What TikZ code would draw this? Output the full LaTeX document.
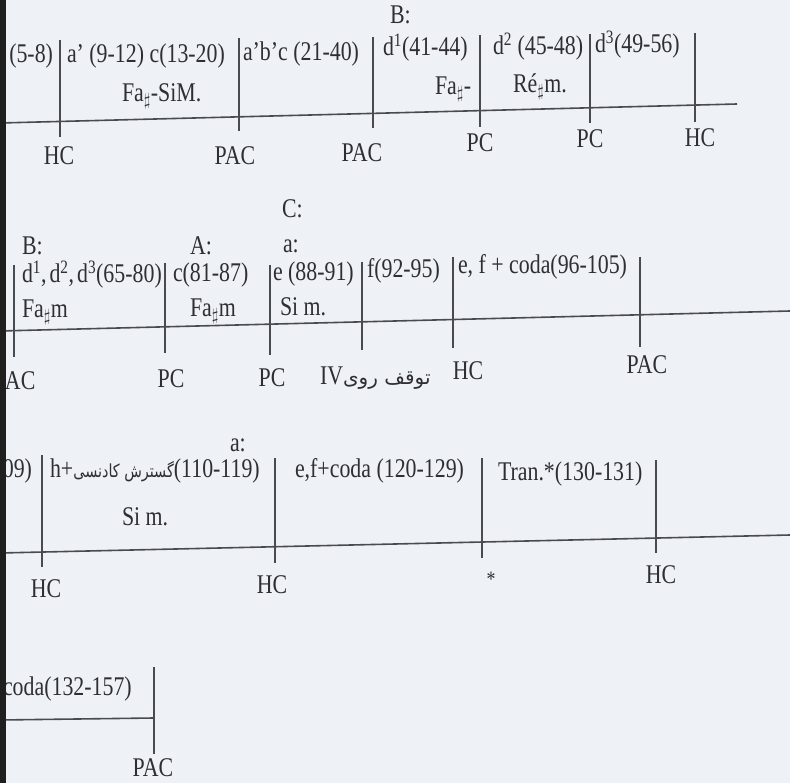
\documentclass[tikz,border=0pt]{standalone}
\usepackage{fontspec}
\setmainfont{Liberation Serif}[FakeStretch=0.81]
\newfontfamily\arabicfont[Script=Arabic]{DejaVu Sans}
\newfontfamily\arabicnarrow[Script=Arabic,FakeStretch=0.8]{DejaVu Sans}
\TeXXeTstate=1
\definecolor{paper}{HTML}{EEF2F7}
\definecolor{ink}{HTML}{2E2E33}
\definecolor{rulec}{HTML}{4A4A52}
\newcommand\mkbar[4]{\coordinate (#1t) at (#2,#3); \coordinate (#1b) at (#2,#4); \draw[barline] (#1t) -- (#1b);}
\newcommand\shp{$_\sharp$}
\newcommand\fa[1]{{\arabicfont\fontsize{20}{24}\selectfont\beginR #1\endR}}
\newcommand\fan[1]{{\arabicnarrow\fontsize{18}{22}\selectfont\beginR #1\endR}}
\tikzset{
 lbl/.style={anchor=base west, inner sep=0pt, outer sep=0pt, text=ink, font=\fontsize{27}{32}\selectfont},
 lble/.style={lbl, anchor=base east},
 cad/.style={lbl, anchor=base},
 barline/.style={draw=rulec, line width=1.3pt},
 staff/.style={draw=rulec, line width=1.6pt},
}
\begin{document}
\begin{tikzpicture}[x=1pt,y=-1pt]
\fill[paper] (0,0) rectangle (790,783);
\useasboundingbox (0,0) rectangle (790,783);
% ---------- row 1
\coordinate (r1a) at (0,123); \coordinate (r1b) at (737,104);
\draw[staff] (r1a) -- (r1b);
\mkbar{p1}{60}{40}{137}
\mkbar{p2}{239}{38}{131}
\mkbar{p3}{373}{37}{128}
\mkbar{p4}{480}{35}{127}
\mkbar{p5}{590}{34}{123}
\mkbar{p6}{695}{33}{122}
\node[lble] (a1) at (53,63) {(5-8)};
\node[lbl] (a2) at (67,63) {a' (9-12) c(13-20)};
\node[lbl] (a3) at (122,102) {Fa\shp-SiM.};
\node[lbl] (a4) at (243,61) {a'b'c (21-40)};
\node[lbl] (a5) at (390,24) {B:};
\node[lbl] (a6) at (383,56) {d\textsuperscript{1}(41-44)};
\node[lbl] (a7) at (435,95) {Fa\shp-};
\node[lbl] (a8) at (493,55) {d\textsuperscript{2} (45-48)};
\node[lbl] (a9) at (513,93) {Ré\shp m.};
\node[lbl] (a10) at (595,53) {d\textsuperscript{3}(49-56)};
\node[cad] (c1) at (59,165) {HC};
\node[cad] (c2) at (235,165) {PAC};
\node[cad] (c3) at (362,162) {PAC};
\node[cad] (c4) at (480,152) {PC};
\node[cad] (c5) at (590,148) {PC};
\node[cad] (c6) at (700,147) {HC};
% ---------- row 2
\coordinate (r2a) at (0,331); \coordinate (r2b) at (790,311);
\draw[staff] (r2a) -- (r2b);
\mkbar{q1}{14}{265}{357}
\mkbar{q2}{165}{263}{353}
\mkbar{q3}{270}{265}{355}
\mkbar{q4}{362}{262}{350}
\mkbar{q5}{453}{257}{348}
\mkbar{q6}{640}{257}{347}
\node[lbl] (b1) at (282,218) {C:};
\node[lbl] (b2) at (22,255) {B:};
\node[lbl] (b3) at (190,255) {A:};
\node[lbl] (b4) at (283,253) {a:};
\node[lbl] (b5) at (22,283) {d\textsuperscript{1},\hspace{3pt}d\textsuperscript{2},\hspace{3pt}d\textsuperscript{3}(65-80)};
\node[lbl] (b6) at (173,282) {c(81-87)};
\node[lbl] (b7) at (273,281) {e (88-91)};
\node[lbl] (b8) at (367,278) {f(92-95)};
\node[lbl] (b9) at (458,274) {e, f + coda(96-105)};
\node[lbl] (b10) at (22,318) {Fa\shp m};
\node[lbl] (b11) at (190,317) {Fa\shp m};
\node[lbl] (b12) at (280,316) {Si m.};
\node[lbl] (d1) at (5,390) {AC};
\node[cad] (d2) at (171,388) {PC};
\node[cad] (d3) at (272,387) {PC};
\node[lbl] (d4) at (320,385) {IV\fa{توقف روی}};
\node[cad] (d5) at (468,380) {HC};
\node[cad] (d6) at (647,374) {PAC};
% ---------- row 3
\coordinate (r3a) at (0,553); \coordinate (r3b) at (790,535);
\draw[staff] (r3a) -- (r3b);
\mkbar{s1}{42}{455}{567}
\mkbar{s2}{275}{458}{563}
\mkbar{s3}{482}{458}{558}
\mkbar{s4}{656}{460}{553}
\node[lbl] (e1) at (230,452) {a:};
\node[lble] (e2) at (32,477) {09)};
\node[lbl] (e3) at (50,477) {h+\fan{گسترش کادنسی}(110-119)};
\node[lbl] (e4) at (122,525) {Si m.};
\node[lbl] (e5) at (295,477) {e,f+coda (120-129)};
\node[lbl] (e6) at (498,480) {Tran.*(130-131)};
\node[cad] (f1) at (46,597) {HC};
\node[cad] (f2) at (272,593) {HC};
\node[cad, font=\fontsize{22}{26}\selectfont] (f3) at (491,586) {*};
\node[cad] (f4) at (661,583) {HC};
% ---------- row 4
\coordinate (r4a) at (0,720); \coordinate (r4b) at (154,718);
\draw[staff] (r4a) -- (r4b);
\mkbar{u1}{154}{667}{754}
\node[lbl] (g1) at (3,695) {coda(132-157)};
\node[cad] (g2) at (153,776) {PAC};
% page edge
\fill[black!88] (0,0) rectangle (6,783);
\end{tikzpicture}
\end{document}
